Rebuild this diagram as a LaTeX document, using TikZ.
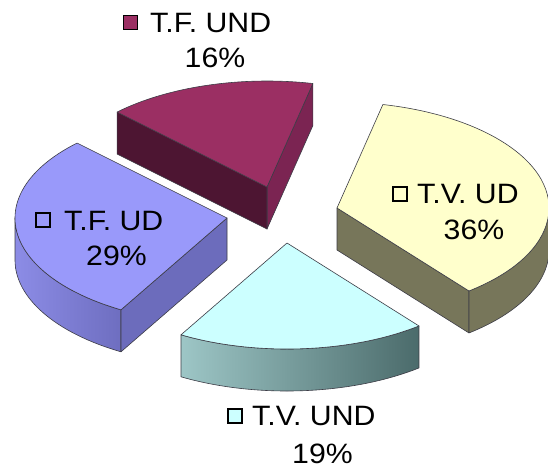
\documentclass[tikz,border=0pt]{standalone}
\usepackage{fontspec}
\usepackage{graphicx}
\setmainfont{Liberation Sans}
\usetikzlibrary{calc}
\newcommand\widetxt[1]{\scalebox{1.08}[1]{#1}}
\definecolor{pTop}{RGB}{155,47,99}
\definecolor{pFront}{RGB}{77,21,50}
\definecolor{pRight}{RGB}{123,36,82}
\definecolor{bTop}{RGB}{153,153,250}
\definecolor{bSideL}{RGB}{140,140,230}
\definecolor{bSideR}{RGB}{110,110,192}
\definecolor{bFront}{RGB}{108,108,188}
\definecolor{cTop}{RGB}{204,255,255}
\definecolor{cSideL}{RGB}{157,198,198}
\definecolor{cSideR}{RGB}{75,107,107}
\definecolor{yTop}{RGB}{255,255,204}
\definecolor{ySide}{RGB}{119,118,90}
\definecolor{edge}{RGB}{60,60,70}
\begin{document}
\begin{tikzpicture}[x=1pt,y=1pt,
  face/.style={draw=edge,line width=0.6pt,line join=round},
  lbl/.style={inner sep=0pt,font=\fontsize{28}{31}\selectfont},
  keysq/.style={draw=black,line width=1.8pt,minimum size=14pt,inner sep=0pt}]
\fill[white] (0,0) rectangle (548,-472);
\useasboundingbox (0,0) rectangle (548,-472);
% apexes
\coordinate (A1) at (267,-187);
\coordinate (A2) at (227,-218);
\coordinate (A3) at (287,-243);
\coordinate (A4) at (337,-208);
\path (A1) ++(77.5:212pt and 106pt) coordinate (P1s);
\path (A1) ++(135:212pt and 106pt) coordinate (P1e);
\path (A2) ++(135:212pt and 106pt) coordinate (P2s);
\path (A2) ++(180:212pt and 106pt) coordinate (P2m);
\path (A2) ++(240:212pt and 106pt) coordinate (P2e);
\path (A3) ++(240:212pt and 106pt) coordinate (P3s);
\path (A3) ++(308.5:212pt and 106pt) coordinate (P3e);
\path (A4) ++(-51.5:212pt and 106pt) coordinate (P4s);
\path (A4) ++(0:212pt and 106pt) coordinate (P4m);
% purple slice (T.F. UND)
\filldraw[face,fill=pRight] (A1) -- (P1s) -- ++(0,-42pt) -- ($(A1)+(0,-42pt)$) -- cycle;
\filldraw[face,fill=pFront] (A1) -- (P1e) -- ++(0,-42pt) -- ($(A1)+(0,-42pt)$) -- cycle;
\filldraw[face,fill=pTop] (A1) -- (P1s) arc[start angle=77.5,end angle=135,x radius=212pt,y radius=106pt] -- cycle;
% blue slice (T.F. UD)
\shade[left color=bSideL,right color=bSideR] (P2m) arc[start angle=180,end angle=240,x radius=212pt,y radius=106pt] -- ++(0,-42pt) arc[start angle=240,end angle=180,x radius=212pt,y radius=106pt] -- cycle;
\draw[face] (P2m) arc[start angle=180,end angle=240,x radius=212pt,y radius=106pt] -- ++(0,-42pt) arc[start angle=240,end angle=180,x radius=212pt,y radius=106pt] -- cycle;
\filldraw[face,fill=bFront] (A2) -- (P2e) -- ++(0,-42pt) -- ($(A2)+(0,-42pt)$) -- cycle;
\filldraw[face,fill=bTop] (A2) -- (P2s) arc[start angle=135,end angle=240,x radius=212pt,y radius=106pt] -- cycle;
% yellow slice (T.V. UD)
\filldraw[face,fill=ySide] (A4) -- (P4s) -- ++(0,-42pt) -- ($(A4)+(0,-42pt)$) -- cycle;
\filldraw[face,fill=ySide] (P4s) arc[start angle=-51.5,end angle=0,x radius=212pt,y radius=106pt] -- ++(0,-42pt) arc[start angle=0,end angle=-51.5,x radius=212pt,y radius=106pt] -- cycle;
\filldraw[face,fill=yTop] (A4) -- (P4s) arc[start angle=-51.5,end angle=77.5,x radius=212pt,y radius=106pt] -- cycle;
% cyan slice (T.V. UND)
\shade[left color=cSideL,right color=cSideR] (P3s) arc[start angle=240,end angle=308.5,x radius=212pt,y radius=106pt] -- ++(0,-42pt) arc[start angle=308.5,end angle=240,x radius=212pt,y radius=106pt] -- cycle;
\draw[face] (P3s) arc[start angle=240,end angle=308.5,x radius=212pt,y radius=106pt] -- ++(0,-42pt) arc[start angle=308.5,end angle=240,x radius=212pt,y radius=106pt] -- cycle;
\filldraw[face,fill=cTop] (A3) -- (P3s) arc[start angle=240,end angle=308.5,x radius=212pt,y radius=106pt] -- cycle;
% labels
\node[keysq,fill=pTop] (k1) at (130.5,-22.5) {};
\node[lbl,anchor=base west] (t1) at (150,-32.5) {\widetxt{T.F. UND}};
\node[lbl,anchor=base] (v1) at (215,-67) {\widetxt{16\%}};
\node[keysq,fill=yTop] (k2) at (400,-194) {};
\node[lbl,anchor=base west] (t2) at (417,-203.5) {\widetxt{T.V. UD}};
\node[lbl,anchor=base] (v2) at (474,-239) {\widetxt{36\%}};
\node[keysq,fill=bTop] (k3) at (43,-220) {};
\node[lbl,anchor=base west] (t3) at (64,-230) {\widetxt{T.F. UD}};
\node[lbl,anchor=base] (v3) at (116.5,-265) {\widetxt{29\%}};
\node[keysq,fill=cTop] (k4) at (235,-416) {};
\node[lbl,anchor=base west] (t4) at (252,-425) {\widetxt{T.V. UND}};
\node[lbl,anchor=base] (v4) at (322.5,-463) {\widetxt{19\%}};
\end{tikzpicture}
\end{document}
